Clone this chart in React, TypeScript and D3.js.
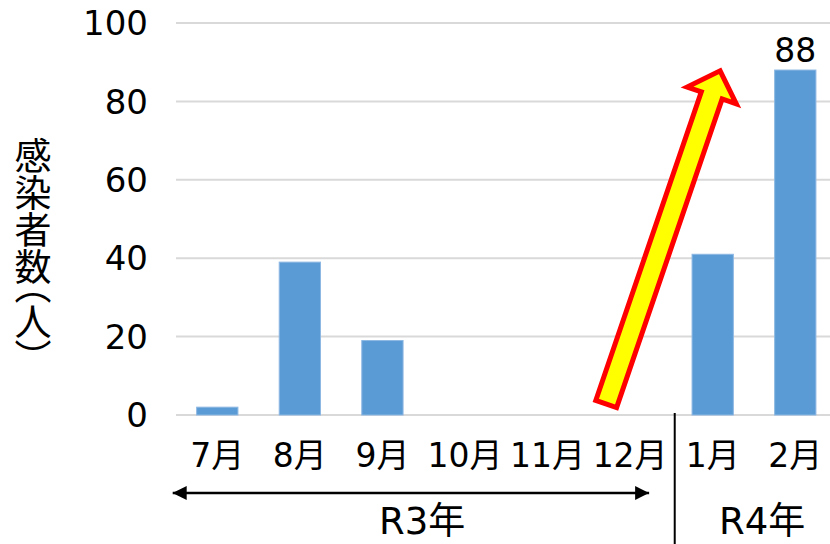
import React, { useEffect } from 'react';
import * as d3 from 'd3';

// chart data
const months = ['7月', '8月', '9月', '10月', '11月', '12月', '1月', '2月'];
const cases = [2, 39, 19, 0, 0, 0, 41, 88];
const yTicks = [0, 20, 40, 60, 80, 100];
const labelledMonths = ['2月'];
const yearGroups = [
  { label: 'R3年', at: 2.98 },
  { label: 'R4年', at: 7.1 },
];
const r3Span = [-0.04, 5.73];
const yearSplit = 6.04;
// annotation arrow, in (band index, value) space
const trendFrom = { idx: 5.21, value: 2.8 };
const trendTo = { idx: 6.59, value: 87.8 };

const W = 830;
const H = 544;
const FONT = '"DejaVu Sans", "Noto Sans CJK JP", sans-serif';
const CJK = '"Noto Sans CJK JP", sans-serif';

const App: React.FC = () => {
  useEffect(() => {
    document.body.style.margin = '0';
  }, []);

  const left = 176;
  const step = 82.57;
  const x = d3.scaleBand<string>()
    .domain(months)
    .range([left, left + step * months.length])
    .paddingInner(0.5)
    .paddingOuter(0.25);
  const xIdx = d3.scaleLinear().domain([0, months.length]).range([left, left + step * months.length]);
  const y = d3.scaleLinear().domain([0, 100]).range([415, 23]);

  // arrow geometry
  const x0 = xIdx(trendFrom.idx), y0 = y(trendFrom.value);
  const x1 = xIdx(trendTo.idx), y1 = y(trendTo.value);
  const len = Math.hypot(x1 - x0, y1 - y0);
  const ang = (Math.atan2(y1 - y0, x1 - x0) * 180) / Math.PI;
  const shaftW = 22, headW = 52, headL = 26;
  const arrowPts: [number, number][] = [
    [0, -shaftW / 2], [len - headL, -shaftW / 2], [len - headL, -headW / 2], [len, 0],
    [len - headL, headW / 2], [len - headL, shaftW / 2], [0, shaftW / 2],
  ];

  const divX = xIdx(yearSplit);
  const spanY = 493;

  return (
    <svg width={W} height={H} style={{ display: 'block', background: '#fff' }} fontFamily={FONT}>
      <defs>
        <marker id="tri" viewBox="0 0 10 10" refX="10" refY="5" markerWidth="14" markerHeight="14"
          markerUnits="userSpaceOnUse" orient="auto-start-reverse">
          <path d="M0,0 L10,5 L0,10 z" fill="#000" />
        </marker>
      </defs>

      {/* gridlines */}
      {yTicks.map(t => (
        <line key={t} x1={left} x2={W} y1={y(t)} y2={y(t)} stroke="#d9d9d9" strokeWidth={2} />
      ))}

      {/* y tick labels */}
      {yTicks.map(t => (
        <text key={'l' + t} x={148} y={y(t)} dy="0.36em" textAnchor="end" fontSize={34} fill="#000">{t}</text>
      ))}

      {/* y title */}
      <text x={33} y={137} fontSize={37} fill="#000" fontFamily={CJK}
        style={{ writingMode: 'vertical-rl', textOrientation: 'upright', fontFeatureSettings: '"vpal"' } as React.CSSProperties}>
        感染者数（人）
      </text>

      {/* bars */}
      {months.map((m, i) => cases[i] > 0 && (
        <rect key={m} x={x(m)} y={y(cases[i])} width={x.bandwidth()} height={y(0) - y(cases[i])}
          fill="#5b9bd5" stroke="#8db8e3" strokeWidth={1} />
      ))}

      {/* data labels */}
      {months.map((m, i) => labelledMonths.includes(m) && (
        <text key={'v' + m} x={x(m)! + x.bandwidth() / 2} y={y(cases[i]) - 8} textAnchor="middle"
          fontSize={33} fill="#000">{cases[i]}</text>
      ))}

      {/* month labels */}
      {months.map(m => (
        <text key={'m' + m} x={x(m)! + x.bandwidth() / 2} y={455} dy="0.36em" textAnchor="middle"
          fontSize={33} fill="#000">{m}</text>
      ))}

      {/* year divider */}
      <line x1={divX} x2={divX} y1={y(0) - 2} y2={H} stroke="#000" strokeWidth={2} />

      {/* R3 span arrow */}
      <line x1={xIdx(r3Span[0])} x2={xIdx(r3Span[1])} y1={spanY} y2={spanY} stroke="#000" strokeWidth={2.5}
        markerStart="url(#tri)" markerEnd="url(#tri)" />

      {/* year labels */}
      {yearGroups.map(g => (
        <text key={g.label} x={xIdx(g.at)} y={521}
          dy="0.36em" textAnchor="middle" fontSize={37} fill="#000">{g.label}</text>
      ))}

      {/* trend arrow */}
      <polygon points={arrowPts.map(p => p.join(',')).join(' ')}
        transform={`translate(${x0},${y0}) rotate(${ang})`}
        fill="#ffff00" stroke="#ff0000" strokeWidth={5} strokeLinejoin="miter" />
    </svg>
  );
};

export default App;
